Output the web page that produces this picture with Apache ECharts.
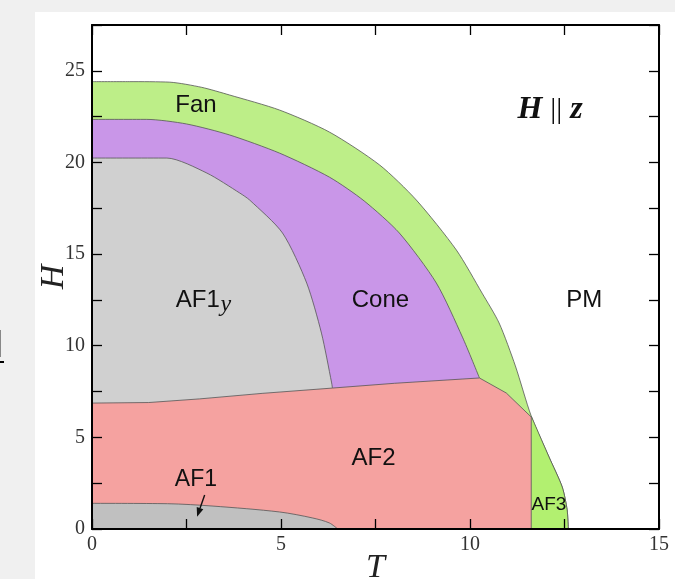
<!DOCTYPE html>
<html><head><meta charset="utf-8">
<script src="https://cdn.jsdelivr.net/npm/echarts@6/dist/echarts.min.js"></script>
<style>
html,body{margin:0;padding:0;background:#f0f0f0;}
#panel{position:absolute;left:35px;top:12px;width:640px;height:567px;background:#fff;}
#m1{position:absolute;left:0;top:330px;width:1px;height:27px;background:#888;}
#m2{position:absolute;left:0;top:361px;width:4px;height:2px;background:#000;}
#chart{position:absolute;left:0;top:0;width:675px;height:579px;}
</style></head>
<body>
<div id="panel"></div><div id="m1"></div><div id="m2"></div><div id="chart"></div>
<script>
// Phase boundaries [T, H]
const fanOuter = [[0,24.41],[1.0,24.41],[2.06,24.38],[2.9,24.1],[3.64,23.68],[4.96,22.86],[6.28,21.66],[7.61,19.86],[8.58,17.95],[9.64,15.22],[10.32,12.87],[10.77,11.24],[11.2,8.9],[11.62,6.16],[12.09,3.93],[12.44,2.29],[12.57,1.04],[12.6,0]];
const fanInner = [[0,22.35],[1.45,22.35],[2.5,22.1],[3.64,21.5],[4.96,20.51],[6.28,19.2],[7.2,17.9],[8.13,16.15],[9.11,13.42],[9.80,10.47],[10.25,8.24]];
const coneInner = [[0,20.24],[1.98,20.24],[3.04,19.42],[3.91,18.33],[4.17,17.95],[5.04,16.15],[5.68,13.42],[6.07,10.69],[6.34,7.97],[6.36,7.69]];
const af2Top = [[0,6.87],[1.5,6.9],[2.85,7.1],[4.5,7.4],[6.36,7.69],[8.0,7.95],[10.25,8.24],[10.96,7.42],[11.62,6.11],[11.62,0]];
const af1Top = [[0,1.4],[2.0,1.38],[3.2,1.25],[4.96,0.93],[5.84,0.6],[6.28,0.33],[6.5,0]];
const af3Start = 11.62;
const af3Outer = fanOuter.filter(p => p[0] >= af3Start);

const xTicks = [0,5,10,15];
const yTicks = [0,5,10,15,20,25];

const labelText = ['Fan','Cone','PM','AF2','AF1','AF3','AF1','y','H || z'];
const labelT    = [2.75, 7.63, 13.02, 7.45, 2.75, 12.09, 2.80, 3.54, 12.12];
const labelH    = [23.13, 12.49, 12.49, 3.87, 2.67, 1.31, 12.49, 12.22, 22.86];
const arrowFrom = [2.98, 1.86];
const arrowTo   = [2.78, 0.67];

const serif = 'Liberation Serif';
const sans = 'Liberation Sans';

function region(name, data, color, z, smooth) {
  return {
    type: 'line', name, data, z, smooth, symbol: 'none', showSymbol: false,
    lineStyle: { color: '#555', width: 0.8 },
    areaStyle: { color, opacity: 1, origin: 'start' },
    silent: true, animation: false, clip: true,
    xAxisIndex: 0, yAxisIndex: 0
  };
}

const chart = echarts.init(document.getElementById('chart'), null, { renderer: 'canvas' });

const axisLine = { show: true, onZero: false, lineStyle: { color: '#000', width: 2 } };
const axisTick = { show: true, inside: true, length: 10, lineStyle: { color: '#000', width: 1.3 } };

const labelStyles = [
  { font: '24px ' + sans, fill: '#111' },
  { font: '24px ' + sans, fill: '#111' },
  { font: '24px ' + sans, fill: '#111' },
  { font: '24px ' + sans, fill: '#111' },
  { font: '23px ' + sans, fill: '#111' },
  { font: '19px ' + sans, fill: '#111' },
  { font: '24px ' + sans, fill: '#111' },
  { font: 'italic 24px ' + serif, fill: '#111' },
  null
];

chart.setOption({
  animation: false,
  backgroundColor: 'transparent',
  grid: { left: 92, right: 16, top: 25, bottom: 50, containLabel: false, outerBoundsMode: 'none' },
  xAxis: [
    { type: 'value', min: 0, max: 15, interval: 2.5, position: 'bottom', z: 20,
      axisLine, axisTick, splitLine: { show: false },
      axisLabel: { formatter: v => xTicks.includes(v) ? String(v) : '', fontFamily: serif, fontSize: 20, color: '#333', margin: 6 },
      name: 'T', nameLocation: 'middle', nameGap: 22, nameMoveOverlap: false,
      nameTextStyle: { fontFamily: serif, fontStyle: 'italic', fontSize: 34, color: '#222' } },
    { type: 'value', min: 0, max: 15, interval: 2.5, position: 'top', z: 20,
      axisLine, axisTick, splitLine: { show: false }, axisLabel: { show: false } }
  ],
  yAxis: [
    { type: 'value', min: 0, max: 27.5, interval: 2.5, position: 'left', z: 20,
      axisLine, axisTick, splitLine: { show: false },
      axisLabel: { formatter: v => yTicks.includes(v) ? String(v) : '', fontFamily: serif, fontSize: 20, color: '#333', margin: 7 },
      name: 'H', nameLocation: 'middle', nameGap: 21, nameMoveOverlap: false,
      nameTextStyle: { fontFamily: serif, fontStyle: 'italic', fontSize: 34, color: '#222' } },
    { type: 'value', min: 0, max: 27.5, interval: 2.5, position: 'right', z: 20,
      axisLine, axisTick, splitLine: { show: false }, axisLabel: { show: false } }
  ],
  series: [
    region('Fan', fanOuter, '#bdee88', 2, 0.25),
    region('Cone', fanInner, '#c996e8', 3, 0.25),
    region('AF1y', coneInner, '#d0d0d0', 4, 0.25),
    region('AF3', af3Outer, '#b2f070', 5, 0.25),
    region('AF2', af2Top, '#f5a2a0', 6, false),
    region('AF1', af1Top, '#c0c0c0', 7, 0.3),
    {
      type: 'custom', name: 'arrow', z: 9, silent: true, animation: false,
      xAxisIndex: 0, yAxisIndex: 0, clip: false,
      data: [[arrowFrom[0], arrowFrom[1], arrowTo[0], arrowTo[1]]],
      renderItem: (params, api) => {
        const a = api.coord([api.value(0), api.value(1)]);
        const b = api.coord([api.value(2), api.value(3)]);
        const dx = b[0] - a[0], dy = b[1] - a[1];
        const len = Math.sqrt(dx * dx + dy * dy);
        const ux = dx / len, uy = dy / len;
        const hl = 9, hw = 3.5;
        const base = [b[0] - ux * hl, b[1] - uy * hl];
        return { type: 'group', children: [
          { type: 'line', shape: { x1: a[0], y1: a[1], x2: base[0], y2: base[1] },
            style: { stroke: '#111', lineWidth: 1.4 } },
          { type: 'polygon', shape: { points: [b, [base[0] - uy * hw, base[1] + ux * hw], [base[0] + uy * hw, base[1] - ux * hw]] },
            style: { fill: '#111' } }
        ] };
      }
    },
    {
      type: 'custom', name: 'labels', z: 9, silent: true, animation: false,
      xAxisIndex: 0, yAxisIndex: 0, clip: false,
      data: labelT.map((t, i) => [t, labelH[i]]),
      renderItem: (params, api) => {
        const i = params.dataIndex;
        const p = api.coord([api.value(0), api.value(1)]);
        if (labelText[i] === 'H || z') {
          return { type: 'text', x: p[0], y: p[1], style: {
            text: '{a|H}{b|||}{a|z}', align: 'center', verticalAlign: 'middle',
            rich: {
              a: { fontFamily: serif, fontStyle: 'italic', fontWeight: 'bold', fontSize: 32, fill: '#111' },
              b: { fontFamily: serif, fontSize: 30, fill: '#111', padding: [0, 8, 0, 8] }
            } } };
        }
        const s = labelStyles[i];
        return { type: 'text', x: p[0], y: p[1], style: {
          text: labelText[i], font: s.font, fill: s.fill, align: 'center', verticalAlign: 'middle' } };
      }
    }
  ]
});
</script>
</body></html>
